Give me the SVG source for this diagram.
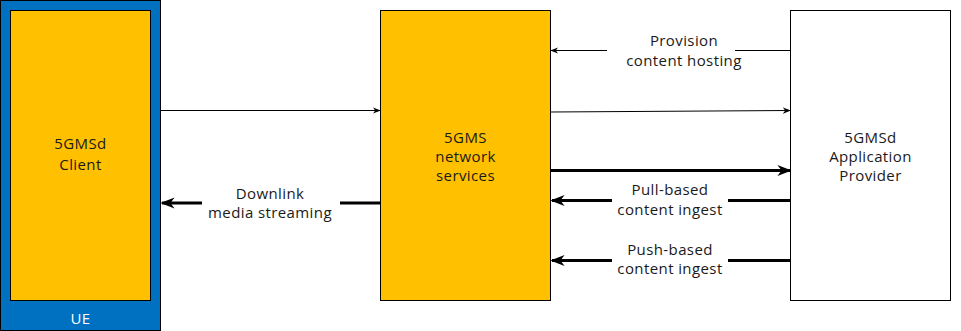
<svg xmlns="http://www.w3.org/2000/svg" width="961" height="331" viewBox="0 0 961 331">
<defs>
<style>
.t{font-family:"Open Sans","Noto Sans",sans-serif;font-size:15px;letter-spacing:0.4px;fill:#1a1a1a;text-anchor:middle}
.thin{stroke:#000;stroke-width:1;fill:none}
.thick{stroke:#000;stroke-width:3;fill:none}
.lb{fill:#fff}
</style>
<marker id="ah" viewBox="0 0 10 10" refX="9" refY="5" markerWidth="8" markerHeight="8" markerUnits="userSpaceOnUse" orient="auto"><path d="M0,1 L10,5 L0,9 L3,5 z" fill="#000"/></marker>
<marker id="ahb" viewBox="0 0 10 10" refX="9" refY="5" markerWidth="14" markerHeight="14" markerUnits="userSpaceOnUse" orient="auto"><path d="M0,1 L10,5 L0,9 L3,5 z" fill="#000"/></marker>
</defs>
<g id="ue">
<rect x="0.5" y="0.5" width="160" height="330" fill="#0070C0" stroke="#000"/>
<rect x="10.5" y="10.5" width="140" height="290" fill="#FFC000" stroke="#000"/>
<text class="t" x="80.5" y="149">5GMSd</text>
<text class="t" x="80.5" y="170">Client</text>
<text class="t" x="80.5" y="324" style="fill:#fff">UE</text>
</g>
<g id="ns">
<rect x="380.5" y="10.5" width="170" height="290" fill="#FFC000" stroke="#000"/>
<text class="t" x="465.5" y="143">5GMS</text>
<text class="t" x="465.5" y="162">network</text>
<text class="t" x="465.5" y="181">services</text>
</g>
<g id="ap">
<rect x="790.5" y="10.5" width="160" height="290" fill="#fff" stroke="#000"/>
<text class="t" x="870.5" y="143">5GMSd</text>
<text class="t" x="870.5" y="162">Application</text>
<text class="t" x="870.5" y="181">Provider</text>
</g>
<g id="connectors">
<line class="thin" x1="160" y1="110.5" x2="380" y2="110.5" marker-end="url(#ah)"/>
<line class="thick" x1="380" y1="203" x2="162" y2="203" marker-end="url(#ahb)"/>
<rect class="lb" x="202" y="183" width="138" height="40"/>
<text class="t" x="270" y="199">Downlink</text>
<text class="t" x="270" y="218">media streaming</text>
<line class="thin" x1="790" y1="50.5" x2="551" y2="50.5" marker-end="url(#ah)"/>
<rect class="lb" x="607" y="30" width="128" height="40"/>
<text class="t" x="684" y="46">Provision</text>
<text class="t" x="684" y="66">content hosting</text>
<line class="thin" x1="551" y1="112" x2="790" y2="110.5" marker-end="url(#ah)"/>
<line class="thick" x1="551" y1="170.5" x2="790" y2="170.5" marker-end="url(#ahb)"/>
<line class="thick" x1="790" y1="200.5" x2="552" y2="200.5" marker-end="url(#ahb)"/>
<rect class="lb" x="612" y="180" width="116" height="40"/>
<text class="t" x="670" y="195">Pull-based</text>
<text class="t" x="670" y="215">content ingest</text>
<line class="thick" x1="790" y1="260.5" x2="552" y2="260.5" marker-end="url(#ahb)"/>
<rect class="lb" x="612" y="241" width="116" height="38"/>
<text class="t" x="670" y="255">Push-based</text>
<text class="t" x="670" y="274">content ingest</text>
</g>
</svg>
